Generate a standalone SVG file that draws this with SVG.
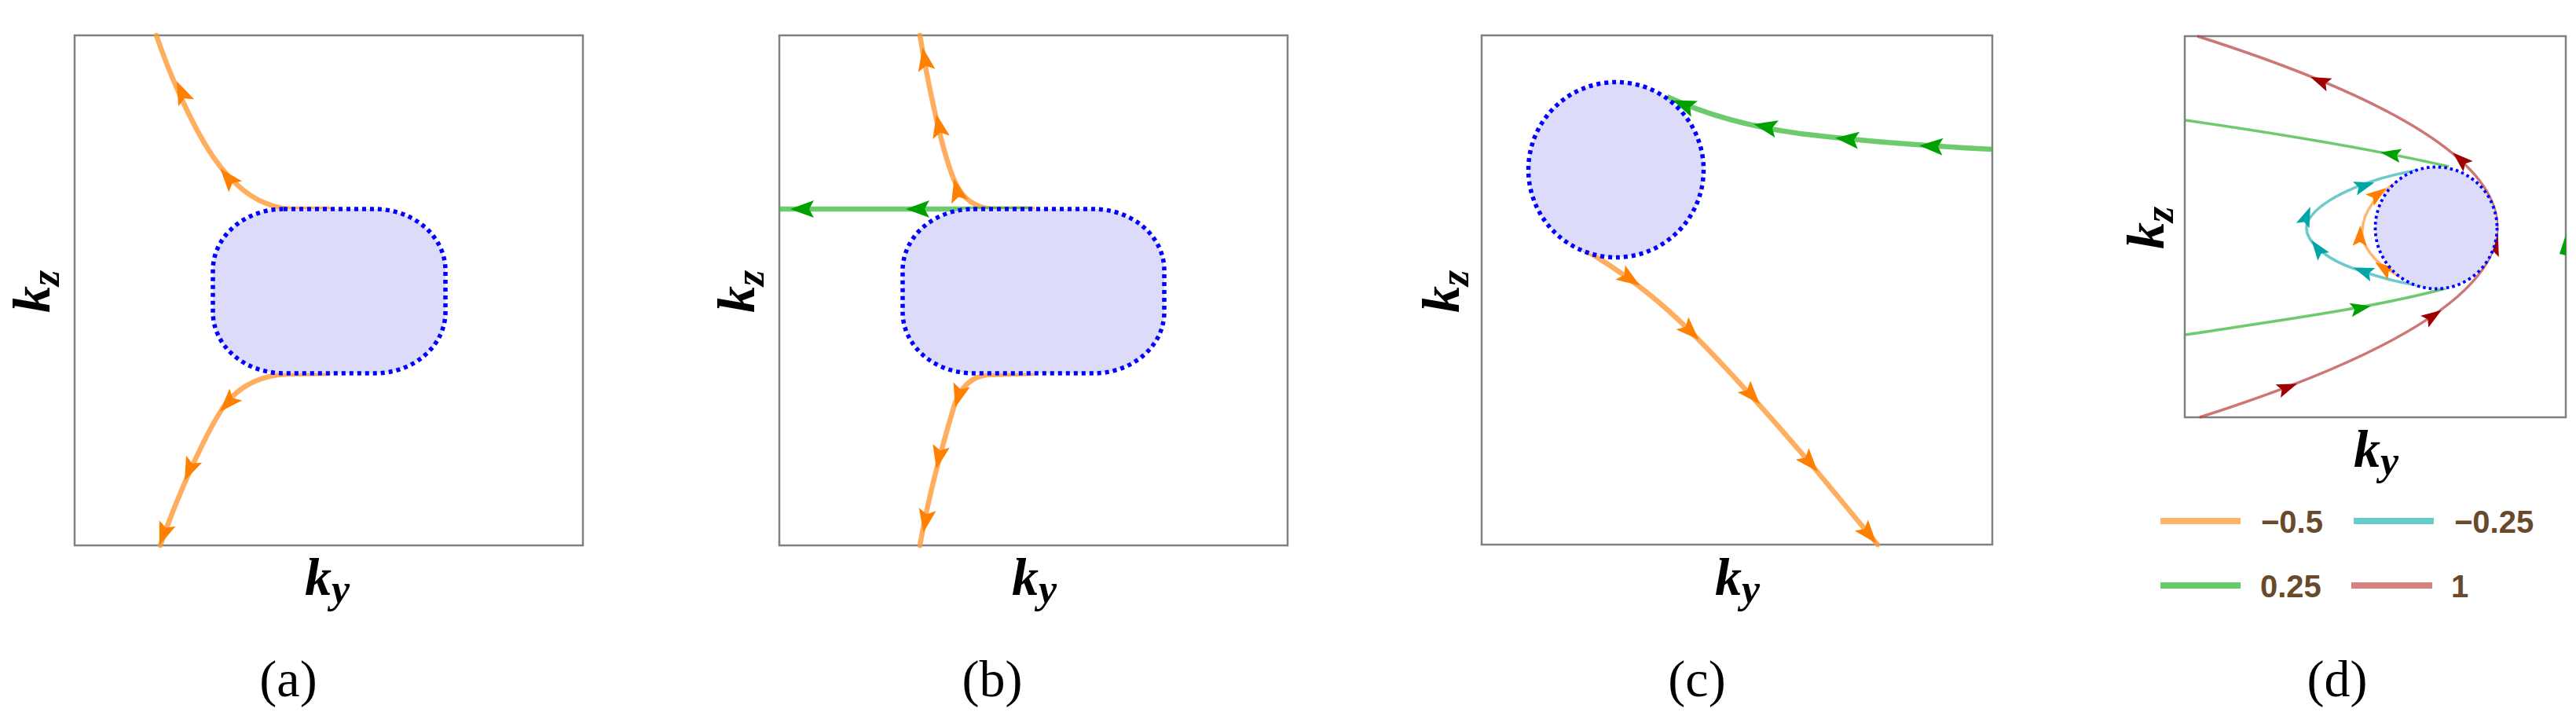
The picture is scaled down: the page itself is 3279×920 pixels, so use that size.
<svg xmlns="http://www.w3.org/2000/svg" xmlns:xlink="http://www.w3.org/1999/xlink" width="3279" height="920" viewBox="0 0 3279 920">
<style>
.frame{fill:none;stroke:#808080;stroke-width:2.5}
.region{fill:#dcdcfa;stroke:#0000ff;stroke-width:5.5;stroke-dasharray:5 5}
.regionS{fill:#dcdcfa;stroke:#0000ff;stroke-width:3.8;stroke-dasharray:3.5 4}
.lo{fill:none;stroke:#ff9a38;stroke-opacity:.8;stroke-width:6.5;stroke-linecap:round}
.lg{fill:none;stroke:#3cb83c;stroke-opacity:.75;stroke-width:6.5;stroke-linecap:butt}
.tlo{fill:none;stroke:#ff9f40;stroke-opacity:.75;stroke-width:3.5}
.tlg{fill:none;stroke:#3cb83c;stroke-opacity:.75;stroke-width:3.5}
.tlc{fill:none;stroke:#30b4b4;stroke-opacity:.7;stroke-width:3.5}
.tlr{fill:none;stroke:#b83c3c;stroke-opacity:.7;stroke-width:3.5}
.ao{fill:#ff8000}
.ag{fill:#00a000}
.ac{fill:#00a6a6}
.ar{fill:#a00000}
.ax{font-family:"Liberation Serif","Times New Roman",serif;font-weight:bold;font-style:italic;font-size:68px;fill:#000}
.sub{font-size:52px}
.cap{font-family:"Liberation Serif","Times New Roman",serif;font-size:66px;fill:#000;text-anchor:middle}
.lt{font-family:"Liberation Sans",Arial,sans-serif;font-weight:bold;font-size:40px;fill:#684a2a}
.leg{stroke-width:8;fill:none}
</style>
<defs>
<path id="ah" d="M15,0 L-15,-11 L-9,0 L-15,11 Z"/>
<path id="ahs" d="M13,0 L-13,-9 L-8,0 L-13,9 Z"/>
</defs>

<g id="panel-a">
  <rect class="frame" x="95" y="45" width="647" height="649"/>
  <g id="a-connectors">
    <path class="lo" d="M199,45 C215,92 240,150 265,190 C285,222 312,250 342,260 C352,264 360,266 372,266 L418,266"/>
    <path class="lo" d="M418,475 L365,476 C330,478 302,492 283,520 C262,552 228,625 204,694"/>
    <use xlink:href="#ah" class="ao" transform="translate(231,117) rotate(-114)"/>
    <use xlink:href="#ah" class="ao" transform="translate(290,226) rotate(-130)"/>
    <use xlink:href="#ah" class="ao" transform="translate(290,513) rotate(133)"/>
    <use xlink:href="#ah" class="ao" transform="translate(241,598) rotate(114)"/>
    <use xlink:href="#ah" class="ao" transform="translate(208,680) rotate(110)"/>
  </g>
  <g id="a-region"><rect class="region" x="271" y="266" width="296" height="209" rx="90" ry="78"/></g>
  <text class="ax" transform="translate(63,398) rotate(-90)">k<tspan class="sub" dy="12">z</tspan></text>
  <text class="ax" x="388" y="757">k<tspan class="sub" dy="10">y</tspan></text>
  <text class="cap" x="367" y="886">(a)</text>
</g>

<g id="panel-b">
  <rect class="frame" x="992" y="45" width="647" height="649"/>
  <g id="b-connectors">
    <path class="lo" d="M1171,45 C1180,100 1195,170 1206,205 C1214,232 1224,262 1262,266 L1314,266"/>
    <path class="lo" d="M1314,475 L1256,477 C1234,480 1222,495 1215,515 C1200,565 1182,630 1171,694"/>
    <path class="lg" d="M992,266 L1314,266"/>
    <use xlink:href="#ah" class="ao" transform="translate(1177,75) rotate(-100)"/>
    <use xlink:href="#ah" class="ao" transform="translate(1195,160) rotate(-102)"/>
    <use xlink:href="#ah" class="ao" transform="translate(1218,242) rotate(-104)"/>
    <use xlink:href="#ah" class="ao" transform="translate(1220,504) rotate(106)"/>
    <use xlink:href="#ah" class="ao" transform="translate(1195,582) rotate(102)"/>
    <use xlink:href="#ah" class="ao" transform="translate(1178,663) rotate(100)"/>
    <use xlink:href="#ah" class="ag" transform="translate(1021,266) rotate(180)"/>
    <use xlink:href="#ah" class="ag" transform="translate(1168,266) rotate(180)"/>
  </g>
  <g id="b-region"><rect class="region" x="1149" y="266" width="333" height="209" rx="90" ry="78"/></g>
  <text class="ax" transform="translate(960,398) rotate(-90)">k<tspan class="sub" dy="12">z</tspan></text>
  <text class="ax" x="1288" y="757">k<tspan class="sub" dy="10">y</tspan></text>
  <text class="cap" x="1263" y="886">(b)</text>
</g>

<g id="panel-c">
  <rect class="frame" x="1886" y="45" width="650" height="648"/>
  <g id="c-connectors">
    <path class="lo" d="M2017,318 Q2090,360 2152,422 T2304,589 L2390,693"/>
    <path class="lg" d="M2536,190 Q2400,183 2300,171 T2122,123"/>
    <use xlink:href="#ah" class="ao" transform="translate(2075,355) rotate(34)"/>
    <use xlink:href="#ah" class="ao" transform="translate(2152,422) rotate(45)"/>
    <use xlink:href="#ah" class="ao" transform="translate(2230,503) rotate(48)"/>
    <use xlink:href="#ah" class="ao" transform="translate(2304,589) rotate(49)"/>
    <use xlink:href="#ah" class="ao" transform="translate(2379,680) rotate(50)"/>
    <use xlink:href="#ah" class="ag" transform="translate(2458,186) rotate(-177)"/>
    <use xlink:href="#ah" class="ag" transform="translate(2351,177) rotate(-174)"/>
    <use xlink:href="#ah" class="ag" transform="translate(2247,161) rotate(-168)"/>
    <use xlink:href="#ah" class="ag" transform="translate(2143,133) rotate(-158)"/>
  </g>
  <g id="c-region"><circle class="region" cx="2057" cy="216" r="111.5"/></g>
  <text class="ax" transform="translate(1857,398) rotate(-90)">k<tspan class="sub" dy="12">z</tspan></text>
  <text class="ax" x="2183" y="757">k<tspan class="sub" dy="10">y</tspan></text>
  <text class="cap" x="2160" y="886">(c)</text>
</g>

<g id="panel-d">
  <rect class="frame" x="2781" y="46" width="485" height="485"/>
  <g id="d-connectors">
    <path class="tlr" d="M2797,46 Q3559,288.5 2800,531"/>
    <path class="tlg" d="M2782,153 C2900,170 3030,192 3117,212"/>
    <path class="tlg" d="M2782,426 C2900,408 3020,392 3113,367"/>
    <path class="tlc" d="M3075,217 C3010,228 2950,255 2937,283 C2930,305 2960,330 3000,343 C3040,357 3070,363 3107,367"/>
    <path class="tlo" d="M3057,353 C3020,335 3005,310 3007,293 C3008,270 3025,245 3055,230"/>
    <use xlink:href="#ahs" class="ar" transform="translate(2953,103) rotate(-157)"/>
    <use xlink:href="#ahs" class="ar" transform="translate(3132,203) rotate(-138)"/>
    <use xlink:href="#ahs" class="ar" transform="translate(3176,312) rotate(-73)"/>
    <use xlink:href="#ahs" class="ar" transform="translate(3097,402) rotate(-34)"/>
    <use xlink:href="#ahs" class="ar" transform="translate(2912,493) rotate(-21)"/>
    <use xlink:href="#ahs" class="ag" transform="translate(3043,196) rotate(-170)"/>
    <use xlink:href="#ahs" class="ag" transform="translate(3005,392) rotate(-11)"/>
    <use xlink:href="#ahs" class="ac" transform="translate(3010,236) rotate(-17)"/>
    <use xlink:href="#ahs" class="ac" transform="translate(2936,275) rotate(-68)"/>
    <use xlink:href="#ahs" class="ac" transform="translate(2950,316) rotate(-126)"/>
    <use xlink:href="#ahs" class="ac" transform="translate(3008,345) rotate(-160)"/>
    <use xlink:href="#ahs" class="ao" transform="translate(3034,341) rotate(-145)"/>
    <use xlink:href="#ahs" class="ao" transform="translate(3004,300) rotate(-88)"/>
    <use xlink:href="#ahs" class="ao" transform="translate(3027,247) rotate(-36)"/>
    <polygon class="ag" points="3258,323 3266,299 3266,325"/>
  </g>
  <g id="d-region"><circle class="regionS" cx="3101" cy="290" r="77.5"/></g>
  <text class="ax" transform="translate(2754,317) rotate(-90)">k<tspan class="sub" dy="12">z</tspan></text>
  <text class="ax" x="2996" y="594">k<tspan class="sub" dy="10">y</tspan></text>
  <g id="legend">
    <line class="leg" x1="2750" y1="663" x2="2852" y2="663" stroke="#ffb366"/>
    <text class="lt" x="2878" y="678">−0.5</text>
    <line class="leg" x1="2996" y1="663" x2="3098" y2="663" stroke="#66cccc"/>
    <text class="lt" x="3124" y="678">−0.25</text>
    <line class="leg" x1="2750" y1="745" x2="2852" y2="745" stroke="#66cc66"/>
    <text class="lt" x="2877" y="760">0.25</text>
    <line class="leg" x1="2993" y1="745" x2="3096" y2="745" stroke="#d98080"/>
    <text class="lt" x="3120" y="760">1</text>
  </g>
  <text class="cap" x="2975" y="886">(d)</text>
</g>
</svg>
